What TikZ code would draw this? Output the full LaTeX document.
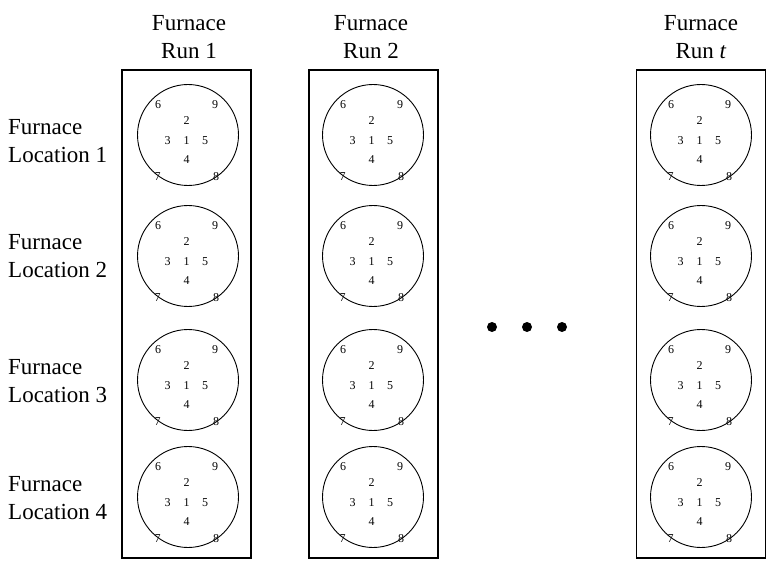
\documentclass[tikz,border=0pt]{standalone}
\usepackage{fontspec}
\setmainfont{Liberation Serif}
\definecolor{ink}{rgb}{0.02,0.02,0.02}
\begin{document}
\begin{tikzpicture}[x=1pt,y=-1pt,
  hdr/.style={font=\fontsize{23}{28}\selectfont, align=center, inner sep=0pt},
  loc/.style={font=\fontsize{23}{28}\selectfont, align=left, anchor=west, inner sep=0pt},
  col/.style={draw, line width=1.6pt, minimum width=129pt, minimum height=488pt, inner sep=0pt},
  wafer/.style={draw, circle, line width=0.9pt, minimum size=101pt, inner sep=0pt},
  num/.style={font=\fontsize{12}{12}\selectfont, text=ink, inner sep=0pt},
  dot/.style={circle, fill=black, minimum size=10pt, inner sep=0pt}]
\useasboundingbox (0,0) rectangle (768,561);
% columns
\node[col] (c1) at (186.5,314) {};
\node[col] (c2) at (373.5,314) {};
\node[col] (c3) at (701,314) {};
% headers
\node[hdr] (h1) at (189,37) {Furnace\\Run 1};
\node[hdr] (h2) at (371,37) {Furnace\\Run 2};
\node[hdr] (h3) at (701,37) {Furnace\\Run \textit{t}};
% location labels
\node[loc] (l1) at (8,141) {Furnace\\Location 1};
\node[loc] (l2) at (8,256) {Furnace\\Location 2};
\node[loc] (l3) at (8,381) {Furnace\\Location 3};
\node[loc] (l4) at (8,498) {Furnace\\Location 4};
% wafers
\foreach \cx/\c in {188/a,373/b,701/c}{
  \foreach \cy/\r in {135/a,256/b,380/c,497/d}{
    \node[wafer] (w\c\r) at (\cx,\cy) {};
    \node[num] (top\c\r) at ([shift={(-1.5,-14)}]w\c\r.center) {2};
    \node[num] (mid\c\r) at ([shift={(-1.5,5.5)}]w\c\r.center) {1};
    \node[num] (lft\c\r) at ([shift={(-20.5,5.5)}]w\c\r.center) {3};
    \node[num] (bot\c\r) at ([shift={(-1.5,24.5)}]w\c\r.center) {4};
    \node[num] (rgt\c\r) at ([shift={(17,5.5)}]w\c\r.center) {5};
    \node[num] (nw\c\r) at ([shift={(-30,-30.5)}]w\c\r.center) {6};
    \node[num] (ne\c\r) at ([shift={(27,-30.5)}]w\c\r.center) {9};
    \node[num] (sw\c\r) at ([shift={(-30.5,41.5)}]w\c\r.center) {7};
    \node[num] (se\c\r) at ([shift={(28,41.5)}]w\c\r.center) {8};
  }
}
% ellipsis dots
\node[dot] (d1) at (492,327) {};
\node[dot] (d2) at (527,327) {};
\node[dot] (d3) at (562,327) {};
\end{tikzpicture}
\end{document}
